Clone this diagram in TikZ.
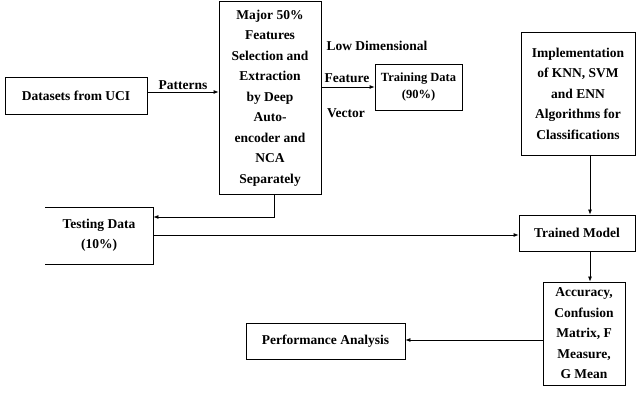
\documentclass[tikz,border=0pt]{standalone}
\usepackage{fontspec}
\setmainfont{Liberation Serif}
\usetikzlibrary{arrows.meta}
\begin{document}
\begin{tikzpicture}[x=1pt,y=-1pt,
 box/.style={draw,thick,align=center,font=\bfseries\fontsize{13.5}{20.5}\selectfont,inner sep=1pt},
 lbl/.style={font=\bfseries\fontsize{13.5}{20}\selectfont,inner sep=1pt},
 arr/.style={-{Latex[length=5pt,width=4pt]},thick}]
\useasboundingbox (0,0) rectangle (640,411);
\node[box,minimum width=142,minimum height=37] (ds) at (76,96) {Datasets from UCI};
\node[box,minimum width=102,minimum height=193] (maj) at (270,98) {Major 50\%\\Features\\Selection and\\Extraction\\by Deep\\Auto-\\encoder and\\NCA\\Separately};
\node[box,minimum width=87,minimum height=46,font=\bfseries\fontsize{12.5}{17}\selectfont] (tr) at (418.5,87) {Training Data\\(90\%)};
\node[box,minimum width=114,minimum height=123] (imp) at (578,93.5) {Implementation\\of KNN, SVM\\and ENN\\Algorithms for\\Classifications};
\node[box,draw=none,minimum width=108,minimum height=57] (te) at (99,235.5) {Testing Data\\(10\%)};
\draw[thick] (45,207) -- (153,207) -- (153,264) -- (45,264);
\node[box,minimum width=116,minimum height=36] (tm) at (577,233) {Trained Model};
\node[box,minimum width=82,minimum height=103] (acc) at (584,333.5) {Accuracy,\\Confusion\\Matrix, F\\Measure,\\G Mean};
\node[box,minimum width=159,minimum height=36] (pa) at (325.5,341) {Performance Analysis};
\draw[arr] (ds.east|-0,92) -- (maj.west|-0,92) node[lbl,midway,above=1pt] {Patterns};
\draw[arr] (maj.east|-0,87) -- (tr.west|-0,87);
\node[lbl] (ld) at (377,46) {Low Dimensional};
\node[lbl] (fe) at (347,78) {Feature};
\node[lbl] (ve) at (346,113) {Vector};
\draw[arr] (maj.south-|274,0) -- (274,217) -- (te.east|-0,217);
\draw[arr] (te.east|-0,235) -- (tm.west|-0,235);
\draw[arr] (imp.south-|590,0) -- (tm.north-|590,0);
\draw[arr] (tm.south-|590,0) -- (acc.north-|590,0);
\draw[arr] (acc.west|-0,340) -- (pa.east|-0,340);
\end{tikzpicture}
\end{document}
